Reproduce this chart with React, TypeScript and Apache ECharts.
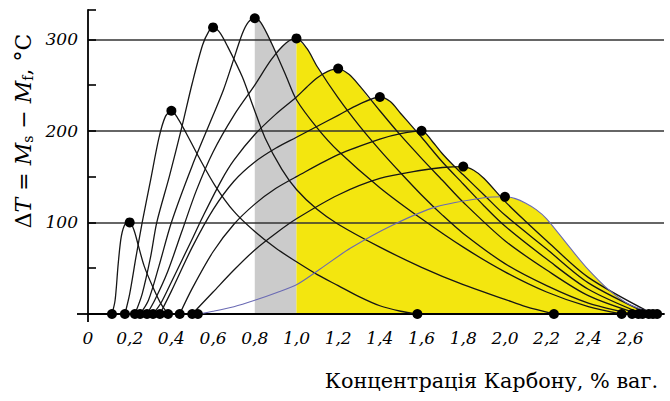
import React, { useEffect, useRef } from 'react';
import * as echarts from 'echarts';

// Peak points of each curve (carbon %, ΔT °C)
const peaks: number[][] = [
  [0.2, 100], [0.4, 222], [0.6, 313], [0.8, 323], [1.0, 301],
  [1.2, 268], [1.4, 237], [1.6, 200], [1.8, 161], [2.0, 128],
];

// Start / end points of curves on the baseline
const baseDots: number[] = [
  0.115, 0.177, 0.225, 0.25, 0.283, 0.312, 0.345, 0.384, 0.44, 0.5, 0.527,
  1.58, 2.235, 2.56, 2.61, 2.64, 2.66, 2.69, 2.71, 2.73,
];

const curve1: number[][] = [[0.115,0],[0.13,15],[0.145,55],[0.16,85],[0.18,99],[0.2,100],[0.22,92],[0.24,76],[0.27,52],[0.31,30],[0.35,11],[0.384,0]];
const curve2: number[][] = [[0.177,0],[0.2,22],[0.23,62],[0.26,100],[0.3,146],[0.34,192],[0.37,215],[0.4,222],[0.43,214],[0.47,198],[0.53,172],[0.61,140],[0.7,112],[0.8,90],[0.9,72],[1.0,57],[1.1,43],[1.2,31],[1.3,19],[1.4,9],[1.5,3],[1.58,0]];
const curve3: number[][] = [[0.225,0],[0.26,22],[0.3,62],[0.33,100],[0.39,150],[0.45,204],[0.5,252],[0.55,294],[0.58,309],[0.6,313],[0.63,308],[0.67,292],[0.74,259],[0.79,228],[0.85,192],[0.93,158],[1.0,136],[1.1,114],[1.2,98],[1.4,73],[1.6,51],[1.8,32],[2.0,16],[2.1,8],[2.235,0]];
const curve4: number[][] = [[0.25,0],[0.29,15],[0.34,52],[0.4,100],[0.5,162],[0.6,217],[0.65,245],[0.69,272],[0.74,306],[0.77,319],[0.8,323],[0.83,318],[0.88,296],[0.95,260],[1.0,234],[1.1,203],[1.2,178],[1.4,138],[1.6,104],[1.8,73],[2.0,46],[2.2,24],[2.4,8],[2.56,0]];
const curve5: number[][] = [[0.283,0],[0.32,15],[0.38,45],[0.45,90],[0.52,135],[0.6,177],[0.7,217],[0.8,250],[0.88,278],[0.95,296],[1.0,301],[1.05,290],[1.1,270],[1.2,236],[1.3,206],[1.4,179],[1.5,154],[1.6,130],[1.7,108],[1.8,88],[2.0,55],[2.2,31],[2.4,12],[2.61,0]];
const curve6: number[][] = [[0.312,0],[0.35,12],[0.4,35],[0.5,82],[0.55,106],[0.64,146],[0.7,168],[0.8,196],[0.9,218],[1.0,237],[1.05,248],[1.1,258],[1.15,265],[1.2,268],[1.25,262],[1.3,250],[1.4,222],[1.5,195],[1.6,170],[1.7,146],[1.8,122],[2.0,80],[2.2,48],[2.4,20],[2.64,0]];
const curve7: number[][] = [[0.345,0],[0.4,25],[0.5,73],[0.6,114],[0.7,145],[0.8,166],[0.9,181],[1.0,193],[1.1,205],[1.2,217],[1.3,229],[1.4,237],[1.45,232],[1.5,219],[1.55,206],[1.6,193],[1.7,166],[1.8,142],[1.9,118],[2.0,96],[2.2,60],[2.4,27],[2.66,0]];
const curve8: number[][] = [[0.44,0],[0.5,28],[0.6,68],[0.7,98],[0.8,120],[0.9,137],[1.0,150],[1.2,174],[1.4,191],[1.5,197],[1.6,200],[1.65,189],[1.7,175],[1.75,163],[1.8,152],[1.9,130],[2.0,108],[2.2,71],[2.4,34],[2.69,0]];
const curve9: number[][] = [[0.5,0],[0.6,24],[0.7,48],[0.8,70],[0.9,88],[1.0,104],[1.2,130],[1.4,148],[1.6,157],[1.7,160],[1.8,161],[1.85,157],[1.9,148],[2.0,123],[2.1,101],[2.2,80],[2.4,40],[2.71,0]];
const curve10: number[][] = [[0.527,0],[0.6,3],[0.7,8],[0.8,15],[0.9,23],[1.0,32],[1.1,47],[1.26,72],[1.46,97],[1.67,117],[1.9,127],[2.0,128],[2.05,126],[2.1,121],[2.15,114],[2.2,104],[2.31,73],[2.39,51],[2.5,26],[2.6,10],[2.73,0]];

const curves: number[][][] = [curve1, curve2, curve3, curve4, curve5, curve6, curve7, curve8, curve9];

// Upper outlines of the shaded zones
const greyTop: number[][] = [[0.8,323],[0.83,318],[0.86,307],[0.9,287],[0.93,292],[0.96,298],[1.0,301]];
const yellowTop: number[][] = [[1.0,301],[1.05,290],[1.1,270],[1.125,262],[1.15,265],[1.2,268],[1.25,262],[1.3,250],[1.36,233],[1.4,237],[1.45,232],[1.5,219],[1.55,206],[1.575,199],[1.6,200],[1.65,189],[1.7,175],[1.76,161],[1.8,161],[1.85,157],[1.9,148],[1.95,136],[1.98,128],[2.0,128],[2.05,126],[2.1,121],[2.15,114],[2.2,104],[2.31,73],[2.39,51],[2.5,26],[2.6,10],[2.73,0]];

const X_MAX = 2.763;
const Y_MAX = 332;
const SERIF = '"DejaVu Serif", serif';

export default function App() {
  const ref = useRef<HTMLDivElement>(null);
  useEffect(() => {
    if (!ref.current) return;
    const chart = echarts.init(ref.current, undefined, { renderer: 'svg' });
    const lineSeries = curves.map((c, i) => ({
      type: 'line',
      name: 'c' + (i + 1),
      data: c,
      smooth: 0.3,
      showSymbol: false,
      lineStyle: { color: '#161616', width: 1.3 },
      z: 3,
      silent: true,
    }));
    chart.setOption({
      animation: false,
      grid: { left: 88, top: 10, right: 6, bottom: 87 },
      xAxis: {
        type: 'value', min: 0, max: X_MAX, interval: 0.2,
        axisLine: { lineStyle: { color: '#000', width: 1.8 } },
        axisTick: { show: true, customValues: [0], length: 8, lineStyle: { color: '#000', width: 1.8 } },
        axisLabel: {
          showMaxLabel: false, margin: 15,
          fontFamily: SERIF, fontStyle: 'italic', fontSize: 17, color: '#000',
          formatter: (v: number) => (v === 0 ? '0' : v.toFixed(1).replace('.', ',')),
        },
        splitLine: { show: true, showMinLine: false, showMaxLine: false, lineStyle: { color: '#333', width: 1.7 } },
      },
      yAxis: [
        {
          type: 'value', min: 0, max: Y_MAX, interval: 100,
          axisLine: { show: true, onZero: false, lineStyle: { color: '#000', width: 1.8 } },
          axisTick: { show: true, inside: true, length: 8, lineStyle: { color: '#000', width: 1.6 } },
          minorTick: { show: true, splitNumber: 2, length: 8, lineStyle: { color: '#000', width: 1.6 } },
          axisLabel: {
            showMaxLabel: false, margin: 10,
            fontFamily: SERIF, fontStyle: 'italic', fontSize: 17, color: '#000',
            formatter: (v: number) => (v === 0 ? '' : String(v)),
          },
          splitLine: { show: true, showMinLine: false, showMaxLine: false, lineStyle: { color: '#333', width: 1.7 } },
          name: '{n|Δ}{i|T}{n| = }{i|M}{s|s}{n| − }{i|M}{s|f}{n|, °C}',
          nameLocation: 'middle',
          nameRotate: 90,
          nameGap: 49,
          nameTextStyle: {
            padding: [0, 0, 0, 62],
            rich: {
              n: { fontFamily: SERIF, fontSize: 22, color: '#000' },
              i: { fontFamily: SERIF, fontSize: 22, fontStyle: 'italic', color: '#000' },
              s: { fontFamily: SERIF, fontSize: 14, color: '#000', verticalAlign: 'bottom' },
            },
          },
        },
        {
          type: 'value', min: 0, max: Y_MAX, position: 'left',
          axisLine: { show: false },
          axisLabel: { show: false },
          splitLine: { show: false },
          axisTick: { show: true, customValues: [0], length: 11, lineStyle: { color: '#000', width: 1.8 } },
        },
      ],
      graphic: [
        {
          type: 'text', right: 12, top: 370,
          style: { text: 'Концентрація Карбону, % ваг.', font: '20.8px "DejaVu Serif", serif', fill: '#000' },
        },
      ],
      series: [
        {
          type: 'line', name: 'grey', data: greyTop, showSymbol: false, silent: true,
          lineStyle: { width: 0 }, areaStyle: { color: '#cbcbcb', opacity: 1 }, z: -1,
        },
        {
          type: 'line', name: 'yellow', data: yellowTop, smooth: 0.15, showSymbol: false, silent: true,
          lineStyle: { width: 0 }, areaStyle: { color: '#f3e60f', opacity: 1 }, z: -1,
        },
        ...lineSeries,
        {
          type: 'line', name: 'c10', data: curve10, smooth: 0.3, showSymbol: false, silent: true,
          lineStyle: { color: '#6a6ab4', width: 1.1 }, z: 3,
        },
        {
          type: 'scatter', name: 'peaks', data: peaks, symbolSize: 10, silent: true,
          itemStyle: { color: '#000', opacity: 1 }, z: 5,
        },
        {
          type: 'scatter', name: 'base', data: baseDots.map((x) => [x, 0]), symbolSize: 10, silent: true,
          itemStyle: { color: '#000', opacity: 1 }, z: 5,
        },
      ],
    });
    return () => chart.dispose();
  }, []);
  return <div ref={ref} style={{ width: 670, height: 401, position: 'absolute', left: 0, top: 0 }} />;
}
